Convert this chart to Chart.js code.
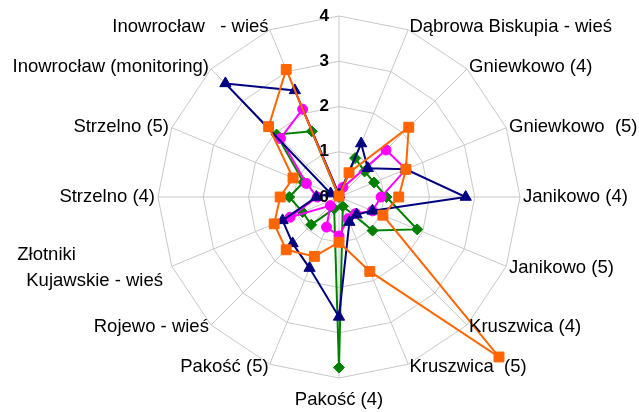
<!DOCTYPE html>
<html>
<head>
<meta charset="utf-8">
<script src="https://cdn.jsdelivr.net/npm/chart.js@4.4.0/dist/chart.umd.min.js"></script>
<style>
    html, body { margin: 0; padding: 0; background: #ffffff; }
    #wrap { width: 639px; height: 412px; }
</style>
</head>
<body>
<div id="wrap"><canvas id="radarChart" width="639" height="412"></canvas></div>
<script>
// Categories, clockwise from the top spoke (top spoke has no label)
const categories = [
    '',
    'Dąbrowa Biskupia - wieś',
    'Gniewkowo (4)',
    'Gniewkowo  (5)',
    'Janikowo (4)',
    'Janikowo (5)',
    'Kruszwica (4)',
    'Kruszwica  (5)',
    'Pakość (4)',
    'Pakość (5)',
    'Rojewo - wieś',
    ['Złotniki', 'Kujawskie - wieś'],
    'Strzelno (4)',
    'Strzelno (5)',
    'Inowrocław (monitoring)',
    'Inowrocław   - wieś'
];

const tickValues = [0, 1, 2, 3, 4];

// Series values
const navySeries    = [0.05, 1.28, 0.90, 1.60, 2.80, 0.80, 0.55, 0.60, 2.65, 1.70, 1.45, 1.35, 0.50, 0.20, 3.55, 2.55];
const orangeSeries  = [0.02, 0.58, 2.18, 1.60, 1.32, 1.05, 5.00, 1.78, 1.00, 1.42, 1.65, 1.55, 1.30, 1.10, 2.20, 3.05];
const magentaSeries = [0.05, 0.23, 1.47, 1.60, 0.93, 0.80, 0.52, 0.52, 0.86, 0.72, 0.27, 1.17, 0.48, 0.78, 1.83, 2.10];
const greenSeries   = [0.00, 0.93, 0.80, 0.84, 1.05, 1.87, 1.05, 0.22, 3.77, 0.28, 0.87, 0.87, 1.10, 0.85, 1.95, 1.57];

// Draws category labels and the bold tick numbers on top of the data
const radarText = {
    id: 'radarText',
    afterDraw(chart) {
        const scale = chart.scales.r;
        const ctx = chart.ctx;
        ctx.save();
        ctx.fillStyle = '#000000';

        // category labels
        ctx.font = '18.5px "Liberation Sans", Arial, sans-serif';
        chart.data.labels.forEach((label, i) => {
            if (!label || (Array.isArray(label) && !label.length)) return;
            const p = scale.getPointPosition(i, scale.drawingArea + 3);
            const dx = p.x - scale.xCenter;
            const lines = Array.isArray(label) ? label : [label];
            const lineH = 26;

            if (Math.abs(dx) < 1) {
                ctx.textAlign = 'center';
                ctx.textBaseline = 'top';
                lines.forEach((t, k) => ctx.fillText(t, p.x, p.y + 10 + k * lineH));
                return;
            }
            ctx.textBaseline = 'middle';
            const y0 = p.y - (lines.length - 1) * lineH / 2;
            if (lines.length > 1) {
                // multi-line label: left-aligned block ending at the spoke
                const w = Math.max(...lines.map(t => ctx.measureText(t).width));
                ctx.textAlign = 'left';
                lines.forEach((t, k) => ctx.fillText(t, p.x - 6 - w - (k === 0 ? 9 : 0), y0 + k * lineH));
            } else {
                ctx.textAlign = dx > 0 ? 'left' : 'right';
                ctx.fillText(lines[0], p.x, y0);
            }
        });

        // tick numbers left of the vertical axis
        ctx.font = 'bold 17px "Liberation Sans", Arial, sans-serif';
        ctx.textAlign = 'right';
        ctx.textBaseline = 'middle';
        tickValues.forEach(v => {
            const y = scale.yCenter - scale.getDistanceFromCenterForValue(v);
            ctx.fillText(String(v), scale.xCenter - 10, y);
        });
        ctx.restore();
    }
};

function renderChart() {
    const ctx = document.getElementById('radarChart').getContext('2d');
    new Chart(ctx, {
        type: 'radar',
        data: {
            labels: categories,
            datasets: [
                {
                    label: 'S2',
                    data: orangeSeries,
                    borderColor: '#ff6600',
                    backgroundColor: '#ff6600',
                    pointStyle: 'rect',
                    pointRadius: 7,
                    clip: false
                },
                {
                    label: 'S1',
                    data: navySeries,
                    borderColor: '#000080',
                    backgroundColor: '#000080',
                    pointStyle: 'triangle',
                    pointRadius: 6.5,
                    clip: false
                },
                {
                    label: 'S3',
                    data: magentaSeries,
                    borderColor: '#ff00ff',
                    backgroundColor: '#ff00ff',
                    pointStyle: 'circle',
                    pointRadius: 5,
                    clip: false
                },
                {
                    label: 'S4',
                    data: greenSeries,
                    borderColor: '#008000',
                    backgroundColor: '#008000',
                    pointStyle: 'rectRot',
                    pointRadius: 5.5,
                    clip: false
                }
            ]
        },
        options: {
            responsive: false,
            animation: false,
            devicePixelRatio: 1,
            layout: {
                padding: { left: 40, right: 0, top: 16, bottom: 34 }
            },
            elements: {
                line: { borderWidth: 2, tension: 0, fill: false },
                point: { borderWidth: 1, hoverRadius: 6 }
            },
            plugins: {
                legend: { display: false },
                tooltip: { enabled: false }
            },
            scales: {
                r: {
                    min: 0,
                    max: 4,
                    beginAtZero: true,
                    ticks: { display: false, stepSize: 1 },
                    pointLabels: { display: false },
                    grid: { color: '#c8c8c8', lineWidth: 1 },
                    angleLines: { color: '#c8c8c8', lineWidth: 1 }
                }
            }
        },
        plugins: [radarText]
    });
}

document.addEventListener('DOMContentLoaded', () => {
    renderChart();
});
</script>
</body>
</html>
